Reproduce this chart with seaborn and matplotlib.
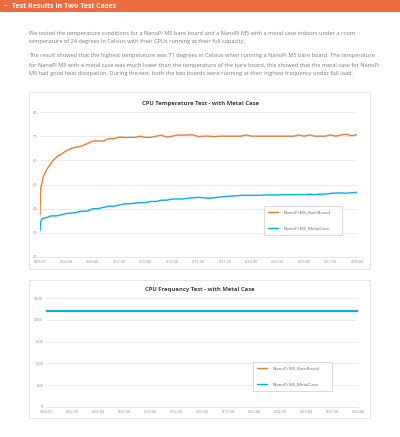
import matplotlib
matplotlib.use("Agg")
import matplotlib.pyplot as plt
import seaborn as sns
import pandas as pd
from matplotlib.patches import Rectangle

# ---- data ----
# elapsed time in minutes
minutes = [0, 0.05, 0.15, 0.3, 0.5, 0.75, 1.0, 1.25, 1.5, 1.75, 2.0, 2.5, 3.0, 3.5,
           4.0, 4.5, 5.0, 5.5, 6.0, 6.5, 7.0, 7.5, 8.0, 8.5, 9.0, 9.5, 10.0, 10.5,
           11.0, 11.5, 12.0, 12.5, 13.0, 13.5, 14.0, 14.5, 15.0, 15.5, 16.0, 16.5,
           17.0, 17.5, 18.0, 18.5, 19.0, 19.5, 20.0, 20.5, 21.0, 21.5, 22.0, 22.5,
           23.0, 23.5, 24.0, 24.5, 25.0, 25.5, 26.0, 26.5, 27.0, 27.5, 28.0, 28.5,
           29.0, 29.5, 30.0]
temp_bare = [37.5, 48.0, 50.0, 53.0, 55.0, 57.0, 58.5, 60.0, 61.0, 62.0, 62.5, 64.0,
             65.0, 65.5, 66.0, 67.0, 68.0, 68.0, 68.0, 69.0, 69.0, 69.6, 69.5, 69.5,
             69.5, 70.0, 69.5, 69.5, 70.0, 70.4, 69.6, 70.0, 70.5, 70.4, 70.5, 70.5,
             69.8, 70.0, 70.0, 69.8, 70.0, 70.0, 70.0, 70.0, 70.0, 70.5, 70.0, 70.0,
             70.0, 70.0, 70.0, 70.0, 70.0, 70.0, 70.0, 70.5, 70.0, 70.5, 70.0, 70.0,
             70.0, 70.5, 70.0, 70.5, 70.8, 70.2, 70.6]
temp_metal = [30.8, 34.5, 35.5, 36.0, 36.2, 36.5, 37.0, 37.0, 37.0, 37.2, 37.5, 38.0,
              38.2, 38.5, 39.0, 39.0, 40.0, 40.0, 40.5, 41.0, 41.0, 41.5, 42.0, 42.0,
              42.3, 42.5, 42.5, 43.0, 43.0, 43.5, 43.5, 44.0, 44.0, 44.0, 44.3, 44.5,
              44.7, 44.5, 44.3, 44.5, 44.8, 45.0, 45.2, 45.3, 45.5, 45.5, 45.5, 45.5,
              45.6, 45.7, 45.7, 45.7, 45.8, 45.8, 45.8, 45.8, 45.8, 46.0, 45.8, 46.0,
              46.0, 46.3, 46.5, 46.5, 46.4, 46.6, 46.8]

freq_minutes = [0, 30]
freq_bare = [2208, 2208]
freq_metal = [2208, 2208]

series_names = ["NanoPi M5_BareBoard", "NanoPi M5_MetalCase"]
tick_minutes = [0, 2.5, 5, 7.5, 10, 12.5, 15, 17.5, 20, 22.5, 25, 27.5, 30]
tick_labels = ["0:00:01", "0:02:30", "0:05:00", "0:07:30", "0:10:00", "0:12:30",
               "0:15:00", "0:17:30", "0:20:00", "0:22:30", "0:25:00", "0:27:30",
               "0:30:00"]
temp_ticks = [20, 30, 40, 50, 60, 70, 80]
freq_ticks = [0, 500, 1000, 1500, 2000, 2500]

ORANGE = "#ED7D31"
BLUE = "#00B0F0"
HEADER = "#EE6B3D"

sns.set_theme(style="white")
plt.rcParams['font.family'] = ['Open Sans', 'DejaVu Sans']

W, H = 400, 437
fig = plt.figure(figsize=(4.0, 4.37), dpi=100)


def fx(px):
    return px / W


def fy(py):
    return 1 - py / H


# header bar
fig.patches.append(Rectangle((0, fy(12)), 1, 12 / H, transform=fig.transFigure,
                             facecolor=HEADER, edgecolor="none", zorder=-2))
fig.text(fx(4), fy(6), "–", color="white", fontsize=5, fontweight="bold", va="center")
fig.text(fx(12), fy(6), "Test Results in Two Test Cases", color="white",
         fontsize=5, fontweight="bold", va="center")

para_color = "#7a7a7a"
para_lines = [
    (33, "We tested the temperature conditions for a NanoPi M5 bare board and a NanoPi M5 with a metal case indoors under a room"),
    (42, "temperature of 24 degrees in Celsius with their CPUs running at their full capacity."),
    (56, "The result showed that the highest temperature was 71 degrees in Celsius when running a NanoPi M5 bare board. The temperature"),
    (65, "for NanoPi M5 with a metal case was much lower than the temperature of the bare board, this showed that the metal case for NanoPi"),
    (74, "M5 had good heat dissipation. During the test, both the two boards were running at their highest frequency under full load."),
]
for py, line in para_lines:
    fig.text(fx(29), fy(py), line, color=para_color, fontsize=4.05, va="center")

# cards (drawn beneath the axes)
for top, bottom in [(92, 269), (280, 418)]:
    fig.patches.append(Rectangle((fx(29), fy(bottom)), (370 - 29) / W, (bottom - top) / H,
                                 transform=fig.transFigure, facecolor="white",
                                 edgecolor="#e3e3e3", linewidth=0.6, zorder=-1))


def style_axis(ax, yticks):
    ax.set_xlim(0, 30)
    ax.set_ylim(yticks[0], yticks[-1])
    ax.set_xticks(tick_minutes)
    ax.set_xticklabels(tick_labels)
    ax.set_yticks(yticks)
    ax.tick_params(axis="both", length=0, labelsize=2.8, colors="#8a8a8a", pad=2)
    ax.grid(axis="y", color="#e8e8e8", linewidth=0.6)
    ax.grid(axis="x", visible=False)
    for s in ax.spines.values():
        s.set_visible(False)
    ax.spines["bottom"].set_visible(True)
    ax.spines["bottom"].set_color("#e0e0e0")
    ax.spines["bottom"].set_linewidth(0.6)
    ax.set_xlabel("")
    ax.set_ylabel("")
    ax.patch.set_alpha(0)


def add_legend(ax, x0, y0, x1, y1):
    handles, labels = ax.get_legend_handles_labels()
    if ax.get_legend():
        ax.get_legend().remove()
    leg = fig.legend(handles, labels, loc="center",
                     bbox_to_anchor=(fx(x0), fy(y1), (x1 - x0) / W, (y1 - y0) / H),
                     bbox_transform=fig.transFigure, mode="expand",
                     fontsize=3.2, frameon=True, fancybox=False, labelspacing=2.6,
                     handlelength=2.2, handletextpad=1.2, borderpad=1.0,
                     borderaxespad=0)
    leg.get_frame().set_edgecolor("#c8c8c8")
    leg.get_frame().set_linewidth(0.6)
    for t in leg.get_texts():
        t.set_color("#6a6a6a")


# chart 1: temperature
temp_df = pd.DataFrame({
    "minute": minutes * 2,
    "value": temp_bare + temp_metal,
    "board": [series_names[0]] * len(minutes) + [series_names[1]] * len(minutes),
})
ax1 = fig.add_axes([fx(40), fy(257), (357 - 40) / W, (257 - 112) / H])
sns.lineplot(data=temp_df, x="minute", y="value", hue="board",
             palette=[ORANGE, BLUE], linewidth=1.0, ax=ax1)
style_axis(ax1, temp_ticks)
fig.text(fx(200), fy(104), "CPU Temperature Test - with Metal Case", ha="center",
         va="center", fontsize=4.2, fontweight="bold", color="#404040")
add_legend(ax1, 264, 204, 342, 237)

# chart 2: frequency (both boards sit on the same value, blue drawn on top)
freq_df = pd.DataFrame({
    "minute": freq_minutes * 2,
    "value": freq_bare + freq_metal,
    "board": [series_names[0]] * len(freq_minutes) + [series_names[1]] * len(freq_minutes),
})
ax2 = fig.add_axes([fx(46), fy(407), (358 - 46) / W, (407 - 298) / H])
sns.lineplot(data=freq_df, x="minute", y="value", hue="board",
             palette=[ORANGE, BLUE], linewidth=1.0, ax=ax2)
ax2.lines[1].set_linewidth(1.4)
ax2.lines[1].set_zorder(3)
style_axis(ax2, freq_ticks)
fig.text(fx(200), fy(289), "CPU Frequency Test - with Metal Case", ha="center",
         va="center", fontsize=4.2, fontweight="bold", color="#404040")
add_legend(ax2, 253, 358, 332, 395)

fig.savefig("out.png", dpi=100, facecolor="white")
